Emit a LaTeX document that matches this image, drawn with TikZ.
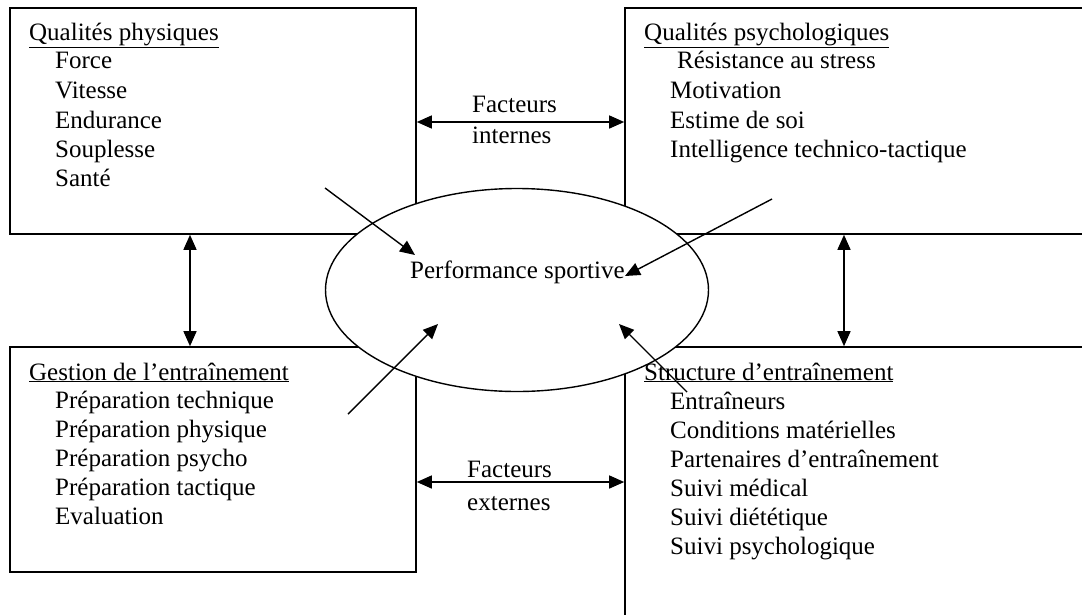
\documentclass[tikz,border=0pt]{standalone}
\usepackage{fontspec}
\setmainfont{Liberation Serif}
\usetikzlibrary{arrows.meta,shapes.geometric}
\tikzset{
  box/.style={draw, line width=1.6pt, rectangle, inner sep=0pt},
  txt/.style={anchor=base west, inner sep=0pt, font=\fontsize{25}{30}\selectfont},
  ttl/.style={txt},
  arr/.style={line width=1.4pt, -{Triangle[length=15pt,width=13pt]}},
  dbl/.style={line width=1.4pt, {Triangle[length=15pt,width=13pt]}-{Triangle[length=15pt,width=13pt]}},
}
\begin{document}
\begin{tikzpicture}[x=1pt,y=-1pt]
\useasboundingbox (0,0) rectangle (1082,614);
\clip (0,0) rectangle (1082,614);
\fill[white] (0,0) rectangle (1082,614);
% boxes
\node[box, minimum width=406pt, minimum height=226pt] (phys) at (213,121) {};
\node[box, minimum width=500pt, minimum height=226pt] (psy) at (875,121) {};
\node[box, minimum width=406pt, minimum height=225pt] (gest) at (213,459.5) {};
\node[box, minimum width=500pt, minimum height=300pt] (struc) at (875,497) {};
% ellipse
\node[draw, line width=1.4pt, fill=white, ellipse, minimum width=383pt, minimum height=203pt, inner sep=0pt] (perf) at (517,290) {};
\node[txt] (perft) at (410,278) {Performance sportive};
% texts top-left
\node[ttl] (t1) at (29,40) {\underline{Qualités physiques}};
\node[txt] at (55,68) {Force};
\node[txt] at (55,98) {Vitesse};
\node[txt] at (55,128) {Endurance};
\node[txt] at (55,157) {Souplesse};
\node[txt] at (55,186) {Santé};
% top-right
\node[ttl] (t2) at (644,40) {\underline{Qualités psychologiques}};
\node[txt] at (677,68) {Résistance au stress};
\node[txt] at (670,98) {Motivation};
\node[txt] at (670,128) {Estime de soi};
\node[txt] at (670,157) {Intelligence technico-tactique};
% bottom-left
\node[ttl] (t3) at (29,380) {\underline{Gestion de l’entraînement}};
\node[txt] at (55,408) {Préparation technique};
\node[txt] at (55,437) {Préparation physique};
\node[txt] at (55,466) {Préparation psycho};
\node[txt] at (55,495) {Préparation tactique};
\node[txt] at (55,524) {Evaluation};
% bottom-right
\node[ttl] (t4) at (644,380) {\underline{Structure d’entraînement}};
\node[txt] at (670,409) {Entraîneurs};
\node[txt] at (670,438) {Conditions matérielles};
\node[txt] at (670,467) {Partenaires d’entraînement};
\node[txt] at (670,496) {Suivi médical};
\node[txt] at (670,525) {Suivi diététique};
\node[txt] at (670,554) {Suivi psychologique};
% factor labels
\node[txt] (fi1) at (472,112) {Facteurs};
\node[txt] (fi2) at (472,143) {internes};
\node[txt] (fe1) at (467,477) {Facteurs};
\node[txt] (fe2) at (467,510) {externes};
% double arrows
\coordinate (yi) at (0,122);
\coordinate (ye) at (0,482);
\coordinate (xl) at (190,0);
\coordinate (xr) at (844,0);
\draw[dbl] (phys.east |- yi) -- (psy.west |- yi);
\draw[dbl] (gest.east |- ye) -- (struc.west |- ye);
\draw[dbl] (phys.south -| xl) -- (gest.north -| xl);
\draw[dbl] (psy.south -| xr) -- (struc.north -| xr);
% arrows into ellipse
\coordinate (s1) at (325,188); \coordinate (e1) at (415,255);
\coordinate (s2) at (772,199); \coordinate (e2) at (625,276);
\coordinate (s3) at (348,414); \coordinate (e3) at (438,324);
\coordinate (s4) at (687,392); \coordinate (e4) at (619,324);
\draw[arr] (s1) -- (e1);
\draw[arr] (s2) -- (e2);
\draw[arr] (s3) -- (e3);
\draw[arr] (s4) -- (e4);
\end{tikzpicture}
\end{document}
